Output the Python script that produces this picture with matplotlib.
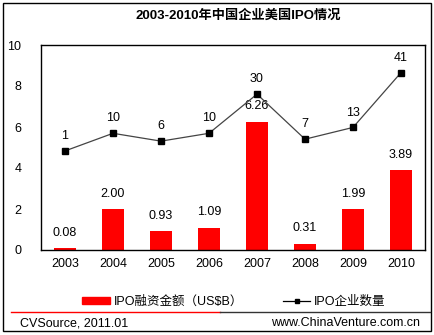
import matplotlib.pyplot as plt
from matplotlib.lines import Line2D
from matplotlib.patches import Rectangle

plt.rcParams["font.family"] = ["Liberation Sans", "Noto Sans CJK SC"]

years = ["2003", "2004", "2005", "2006", "2007", "2008", "2009", "2010"]
ipo_amount = [0.08, 2.00, 0.93, 1.09, 6.26, 0.31, 1.99, 3.89]
ipo_count = [1, 10, 6, 10, 30, 7, 13, 41]

W, H = 435, 335
fig = plt.figure(figsize=(W / 100, H / 100), dpi=100)


def fx(px):
    return px / W


def fy(py):
    return 1 - py / H


# outer frame
fig.patches.append(Rectangle((fx(3), fy(331)), fx(428), 328 / H, transform=fig.transFigure,
                             fill=False, edgecolor="black", linewidth=1.0))

ax = fig.add_axes([fx(41), fy(250), fx(384), (250 - 45) / H])
x = list(range(len(years)))
ax.bar(x, ipo_amount, width=0.44, color="#ff0000", zorder=2)
for xi, v in zip(x, ipo_amount):
    ax.text(xi, v + 0.45, f"{v:.2f}", ha="center", va="bottom", fontsize=9)

ax.set_xlim(-0.5, len(years) - 0.5)
ax.set_ylim(0, 10)
ax.set_yticks(range(0, 11, 2))
ax.set_xticks(x)
ax.set_xticklabels(years)
ax.tick_params(length=0, labelsize=9, pad=6)
ax.tick_params(axis="y", pad=14)
for s in ax.spines.values():
    s.set_linewidth(1.0)

# IPO counts on a hidden secondary scale
ax2 = ax.twinx()
ax2.plot(x, ipo_count, color="#444444", linewidth=0.9, marker="s", markersize=5,
         markerfacecolor="black", markeredgecolor="black", zorder=3)
for xi, c in zip(x, ipo_count):
    ax2.text(xi, c + 4.5, str(c), ha="center", va="bottom", fontsize=9)
ax2.set_ylim(-49.6, 55.1)
ax2.set_yticks([])
for s in ax2.spines.values():
    s.set_visible(False)

fig.text(fx(238), fy(16), "2003-2010年中国企业美国IPO情况", ha="center", va="center",
         fontsize=9.5, fontweight="bold")

handles = [
    Rectangle((0, 0), 1, 1, color="#ff0000"),
    Line2D([], [], color="black", linewidth=0.9, marker="s", markersize=3.5),
]
fig.legend(handles, ["IPO融资金额（US$B）", "IPO企业数量"], loc="center",
           bbox_to_anchor=(fx(234), fy(302)), ncol=2, frameon=False, fontsize=9,
           handlelength=2.2, handleheight=0.5, columnspacing=3.2, handletextpad=0.3)

fig.add_artist(Line2D([fx(11), fx(220)], [fy(312), fy(312)], color="#ff0000", linewidth=1.0))
fig.add_artist(Line2D([fx(220), fx(430)], [fy(312), fy(312)], color="#333333", linewidth=1.0))

fig.text(fx(20), fy(323), "CVSource, 2011.01", ha="left", va="center", fontsize=9)
fig.text(fx(420), fy(323), "www.ChinaVenture.com.cn", ha="right", va="center", fontsize=9)

fig.savefig("out.png", dpi=100)
